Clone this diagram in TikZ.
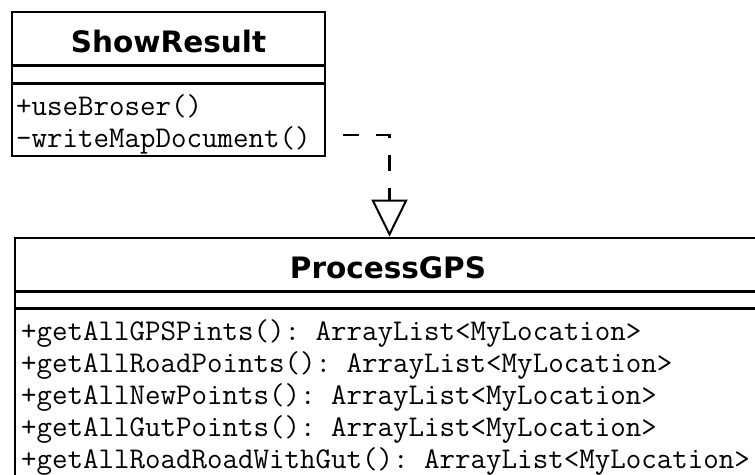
\documentclass[tikz,border=0pt]{standalone}
\usepackage{fontspec}
\usetikzlibrary{arrows.meta}
\newfontfamily\umltitle{DejaVu Sans}
\begin{document}
\frenchspacing
\begin{tikzpicture}[x=1pt,y=-1pt,
  classbox/.style={draw=black, line width=2.8pt, fill=white, inner sep=0pt},
  compsep/.style={line width=2.8pt},
  classname/.style={font=\umltitle\bfseries\fontsize{29.5}{31}\selectfont, inner sep=0pt, anchor=base},
  member/.style={font=\ttfamily\fontsize{30.1}{32}\selectfont, inner sep=0pt, anchor=base west},
  realize/.style={line width=2.8pt, dash pattern=on 16pt off 17pt, dash phase=16pt,
    -{Triangle[open, length=37pt, width=36pt, line width=2pt]}},
]
\useasboundingbox (0,0) rectangle (755,474);
\clip (0,0) rectangle (755,474);

% class ShowResult
\node[classbox, minimum width=313pt, minimum height=144pt] (sr) at (168.5,84) {};
\draw[compsep] ([yshift=-55pt]sr.north west) -- ([yshift=-55pt]sr.north east);
\draw[compsep] ([yshift=-73pt]sr.north west) -- ([yshift=-73pt]sr.north east);
\node[classname] (srname) at (168.5,52) {ShowResult};
\node[member] (srm1) at (16,115) {+useBroser()};
\node[member] (srm2) at (16,147) {-writeMapDocument()};

% class ProcessGPS
\node[classbox, minimum width=746pt, minimum height=252pt] (pg) at (388,364) {};
\draw[compsep] ([yshift=-55pt]pg.north west) -- ([yshift=-55pt]pg.north east);
\draw[compsep] ([yshift=-72pt]pg.north west) -- ([yshift=-72pt]pg.north east);
\node[classname] (pgname) at (388,278) {ProcessGPS};
\node[member] (pgm1) at (21,340) {+getAllGPSPints(): ArrayList<MyLocation>};
\node[member] (pgm2) at (21,372) {+getAllRoadPoints(): ArrayList<MyLocation>};
\node[member] (pgm3) at (21,404) {+getAllNewPoints(): ArrayList<MyLocation>};
\node[member] (pgm4) at (21,436) {+getAllGutPoints(): ArrayList<MyLocation>};
\node[member] (pgm5) at (21,468) {+getAllRoadRoadWithGut(): ArrayList<MyLocation>};

% realization: ShowResult -> ProcessGPS
\coordinate (bend) at (389.5,135);
\draw[realize] (sr.east |- bend) -- (bend) -- (bend |- pg.north);
\end{tikzpicture}
\end{document}
